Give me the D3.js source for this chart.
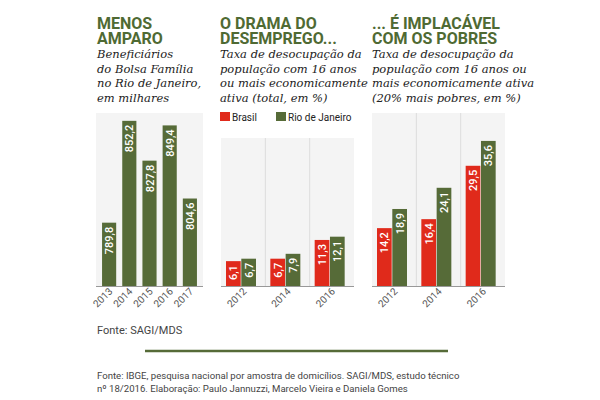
<!DOCTYPE html>
<html><head><meta charset="utf-8">
<script src="https://cdn.jsdelivr.net/npm/d3@7"></script>
<style>body{margin:0;background:#fff}svg{display:block}</style>
</head><body>
<script>
// ---- data ----
const years1 = ["2013","2014","2015","2016","2017"];
const bolsa = [789.8, 852.2, 827.8, 849.4, 804.6];
const years2 = ["2012","2014","2016"];
const series = ["Brasil","Rio de Janeiro"];
const totalBrasil = [6.1, 6.7, 11.3];
const totalRio = [6.7, 7.9, 12.1];
const pobresBrasil = [14.2, 16.4, 29.5];
const pobresRio = [18.9, 24.1, 35.6];
const titles = [["MENOS","AMPARO"],["O DRAMA DO","DESEMPREGO..."],["... É IMPLACÁVEL","COM OS POBRES"]];
const subtitles = [
  ["Beneficiários","do Bolsa Família","no Rio de Janeiro,","em milhares"],
  ["Taxa de desocupação da","população com 16 anos","ou mais economicamente","ativa (total, em %)"],
  ["Taxa de desocupação da","população com 16 anos ou","mais economicamente ativa","(20% mais pobres, em %)"]
];
const fonte1 = "Fonte: SAGI/MDS";
const footer = ["Fonte: IBGE, pesquisa nacional por amostra de domicílios. SAGI/MDS, estudo técnico",
                "nº 18/2016. Elaboração: Paulo Jannuzzi, Marcelo Vieira e Daniela Gomes"];

const GREEN = "#566b38", RED = "#e02a1b", BG = "#f4f4f4", TITLE = "#4f6a33";
const fmt = v => String(v.toFixed(1)).replace(".", ",");

const svg = d3.select("body").append("svg").attr("width",600).attr("height",400);
const base = 286;

// titles / subtitles
const titleX = [97, 220, 372];
titles.forEach((t,i)=>{
  const tt = svg.append("text").attr("x",titleX[i]).attr("y",29)
    .attr("font-family","Roboto, Inter, sans-serif").attr("font-weight",700).attr("font-size",16)
    .attr("fill",TITLE);
  t.forEach((line,j)=>tt.append("tspan").attr("x",titleX[i]).attr("dy",j?14.5:0).text(line));
  const st = svg.append("text").attr("x",titleX[i]).attr("y",58)
    .attr("font-family","'DejaVu Serif', serif").attr("font-style","italic").attr("font-size",11.5)
    .attr("fill","#222");
  subtitles[i].forEach((line,j)=>st.append("tspan").attr("x",titleX[i]).attr("dy",j?14.5:0).text(line));
});

// ---- Panel 1 ----
const x1 = d3.scaleBand().domain(years1).range([96,203]).paddingInner(0.3).paddingOuter(0.3);
const y1 = d3.scaleLinear().domain([751, 857]).range([base, 113]);
const g1 = svg.append("g");
g1.append("rect").attr("x",96).attr("y",113).attr("width",107).attr("height",base-113).attr("fill",BG);
g1.selectAll(".b").data(bolsa).join("rect").attr("x",(d,i)=>x1(years1[i])).attr("y",d=>y1(d))
  .attr("width",x1.bandwidth()).attr("height",d=>base-y1(d)).attr("fill",GREEN);
g1.selectAll(".v").data(bolsa).join("text")
  .attr("transform",(d,i)=>`translate(${x1(years1[i])+x1.bandwidth()/2+4},${y1(d)+4}) rotate(-90)`)
  .attr("text-anchor","end").attr("font-family","Roboto, sans-serif").attr("font-size",11).attr("font-weight",500)
  .attr("fill","#fff").text(d=>fmt(d));
const ax1 = g1.append("g").attr("transform",`translate(0,${base})`).call(d3.axisBottom(x1).tickSize(0).tickPadding(0));
ax1.select(".domain").attr("stroke","#999").attr("d","M96,0.5H203");
ax1.selectAll("text").attr("font-family","Roboto, sans-serif").attr("font-size",10).attr("fill","#555")
  .attr("text-anchor","end").attr("dy",0).attr("transform","translate(4,6) rotate(-45)");

svg.append("text").attr("x",97).attr("y",334).attr("font-family","Roboto, sans-serif").attr("font-size",11)
  .attr("fill","#444").text(fonte1);

// ---- Panels 2 and 3 ----
const yR = d3.scaleLinear().domain([0, 37.3]).range([base, 134]);
function grouped(x0, x1r, top, b, r){
  const g = svg.append("g");
  const w = x1r - x0;
  g.append("rect").attr("x",x0).attr("y",top).attr("width",w).attr("height",base-top).attr("fill",BG);
  const xg = d3.scaleBand().domain(years2).range([x0,x1r]);
  const xs = d3.scaleBand().domain(series).range([5, 35]).paddingInner(0.04);
  years2.slice(1).forEach(yv=>g.append("line").attr("x1",xg(yv)).attr("x2",xg(yv))
    .attr("y1",top).attr("y2",base).attr("stroke","#ddd").attr("stroke-width",1));
  const vals = [b, r];
  series.forEach((s,si)=>{
    g.selectAll(".s"+si).data(vals[si]).join("rect")
      .attr("x",(d,i)=>xg(years2[i])+xs(s)).attr("y",d=>yR(d))
      .attr("width",xs.bandwidth()).attr("height",d=>base-yR(d)).attr("fill",si?GREEN:RED);
    g.selectAll(".t"+si).data(vals[si]).join("text")
      .attr("transform",(d,i)=>`translate(${xg(years2[i])+xs(s)+xs.bandwidth()/2+4},${yR(d)+4}) rotate(-90)`)
      .attr("text-anchor","end").attr("font-family","Roboto, sans-serif").attr("font-size",11).attr("font-weight",500)
      .attr("fill","#fff").text(d=>fmt(d));
  });
  const ax = g.append("g").attr("transform",`translate(0,${base})`).call(d3.axisBottom(xg).tickSize(0).tickPadding(0));
  ax.select(".domain").attr("stroke","#999").attr("d",`M${x0},0.5H${x1r}`);
  ax.selectAll("text").attr("font-family","Roboto, sans-serif").attr("font-size",10).attr("fill","#555")
    .attr("text-anchor","end").attr("dy",0).attr("transform","translate(4,6) rotate(-45)");
}
grouped(221, 354, 138, totalBrasil, totalRio);
grouped(372, 505, 113, pobresBrasil, pobresRio);

// legend
const lg = svg.append("g");
const lx = [220, 276];
series.forEach((s,i)=>{
  lg.append("rect").attr("x",lx[i]).attr("y",112).attr("width",10).attr("height",9).attr("fill",i?GREEN:RED);
  lg.append("text").attr("x",lx[i]+12).attr("y",120.5).attr("font-family","Roboto, sans-serif").attr("font-size",10)
    .attr("fill","#222").text(s);
});

// divider and footer
svg.append("line").attr("x1",145).attr("x2",448).attr("y1",351).attr("y2",351).attr("stroke",GREEN).attr("stroke-width",2.5);
footer.forEach((l,i)=>svg.append("text").attr("x",97).attr("y",379+i*12.5).attr("font-family","Roboto, sans-serif")
  .attr("font-size",9.6).attr("fill","#444").text(l));
</script>
</body></html>
